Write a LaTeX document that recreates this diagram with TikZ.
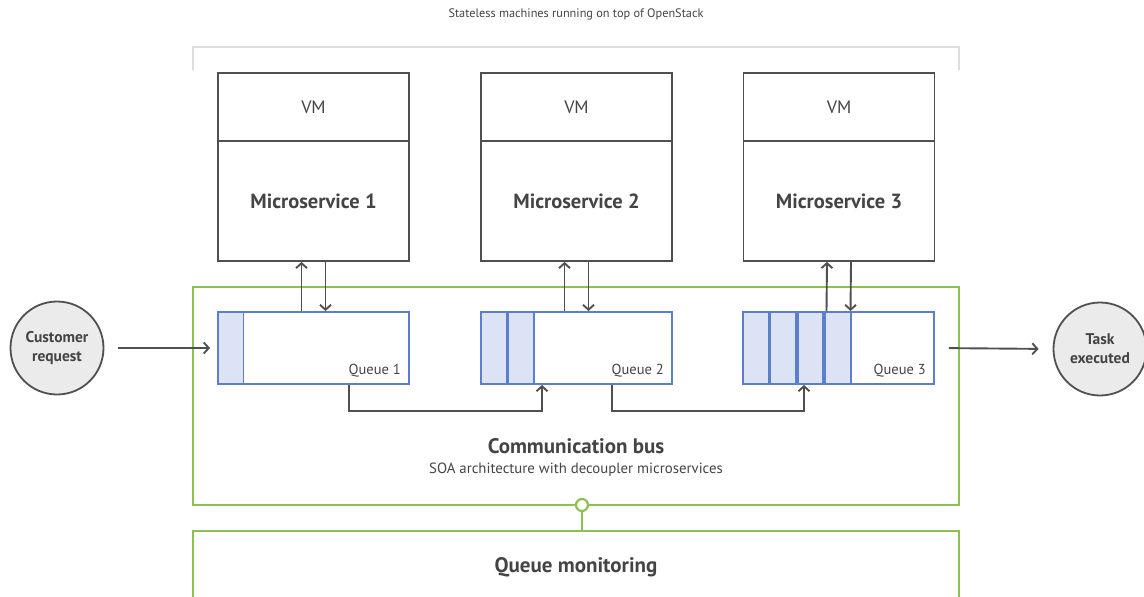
\documentclass[tikz,border=0pt]{standalone}
\usepackage{fontspec}
\setmainfont{PT Sans}
\usetikzlibrary{arrows.meta,calc}
\definecolor{ink}{HTML}{444444}
\definecolor{edge}{HTML}{505050}
\definecolor{busgreen}{HTML}{8CC152}
\definecolor{qblue}{HTML}{5B7FCB}
\definecolor{qfill}{HTML}{DCE3F5}
\definecolor{bracketgray}{HTML}{DDDDDD}
\definecolor{discfill}{HTML}{EBEBEB}
\tikzset{
  arr/.style={draw=edge, line width=1.9pt, -{Straight Barb[length=5pt,width=11pt]}},
  vmbox/.style={draw=edge, line width=1.8pt, fill=white, minimum width=191pt, inner sep=0pt, text=ink, font=\fontsize{18}{20}\selectfont},
  msbox/.style={vmbox, font=\fontsize{20.5}{24}\selectfont\bfseries},
  queuebox/.style={draw=qblue, line width=1.9pt, fill=white, minimum width=191pt, minimum height=72pt, inner sep=0pt},
  cell/.style={draw=qblue, line width=1.9pt, fill=qfill, minimum width=25.5pt, minimum height=72pt, inner sep=0pt, anchor=west},
  qlabel/.style={text=ink, font=\fontsize{14.5}{16}\selectfont, anchor=south east, inner sep=0pt},
  disc/.style={circle, draw=edge, line width=1.8pt, fill=discfill, minimum size=93pt, inner sep=0pt, align=center, text=ink, font=\fontsize{15.5}{19}\selectfont\bfseries},
  greenbox/.style={draw=busgreen, line width=2.2pt, inner sep=0pt},
}
\begin{document}
\begin{tikzpicture}[x=1pt,y=-1pt]
\useasboundingbox (0,0) rectangle (1144,597);
\clip (0,0) rectangle (1144,597);

% heading and bracket over the machines
\node[text=ink, font=\fontsize{12.3}{14}\selectfont] (title) at (576,14) {Stateless machines running on top of OpenStack};
\draw[bracketgray, line width=2pt] (193,70) -- (193,47) -- (959,47) -- (959,70);

% communication bus and monitoring frames
\node[greenbox, minimum width=766pt, minimum height=218pt] (bus) at (576,396) {};
\node[greenbox, minimum width=766pt, minimum height=100pt] (mon) at (576,581) {};
\node[text=ink, font=\fontsize{21}{24}\selectfont\bfseries] (montext) at (576,567) {Queue monitoring};
\node[text=ink, font=\fontsize{21}{24}\selectfont\bfseries] (bustitle) at (576,446) {Communication bus};
\node[text=ink, font=\fontsize{14.8}{17}\selectfont] (bussub) at (576,470) {SOA architecture with decoupler microservices};
\node[circle, draw=busgreen, line width=2.2pt, fill=white, minimum size=12pt, inner sep=0pt] (joint) at (582,505) {};
\draw[busgreen, line width=2.2pt] (joint.south) -- (joint.south |- mon.north);

% virtual machines with their microservices
\foreach \i/\cx in {1/313.5, 2/576.5, 3/839}{
  \node[vmbox, minimum height=68pt] (vm\i) at (\cx,107) {VM};
  \node[msbox, minimum height=120pt] (ms\i) at (\cx,201) {Microservice \i};
}

% queues
\foreach \i/\cx in {1/313.5, 2/576.5, 3/838.5}{
  \node[queuebox] (q\i) at (\cx,348) {};
  \node[qlabel] (ql\i) at ([xshift=-9pt,yshift=8pt]q\i.south east) {Queue \i};
}
\node[cell] (c11) at (q1.west) {};
\node[cell] (c21) at (q2.west) {};
\node[cell] (c22) at (c21.east) {};
\node[cell] (c31) at (q3.west) {};
\node[cell] (c32) at (c31.east) {};
\node[cell] (c33) at (c32.east) {};
\node[cell] (c34) at (c33.east) {};

% queue <-> microservice traffic
\foreach \i in {1,2,3}{
  \draw[arr] ([xshift=-12pt]q\i.north) -- ([xshift=-12pt]ms\i.south);
  \draw[arr] ([xshift=12pt]ms\i.south) -- ([xshift=12pt]q\i.north);
}

% hand-off between queues
\draw[arr] ([xshift=35.5pt]q1.south) -- ++(0,26) -| ([xshift=-34.5pt]q2.south);
\draw[arr] ([xshift=35.5pt]q2.south) -- ++(0,26) -| ([xshift=-34.5pt]q3.south);

% entry and exit
\node[disc] (cust) at (57,348) {Customer\\request};
\node[disc] (task) at (1100,349) {Task\\executed};
\draw[arr, shorten <=14pt, shorten >=7pt] (cust.east) -- (q1.west);
\draw[arr, shorten <=14pt, shorten >=14pt] (q3.east) -- (task.west);
\end{tikzpicture}
\end{document}
